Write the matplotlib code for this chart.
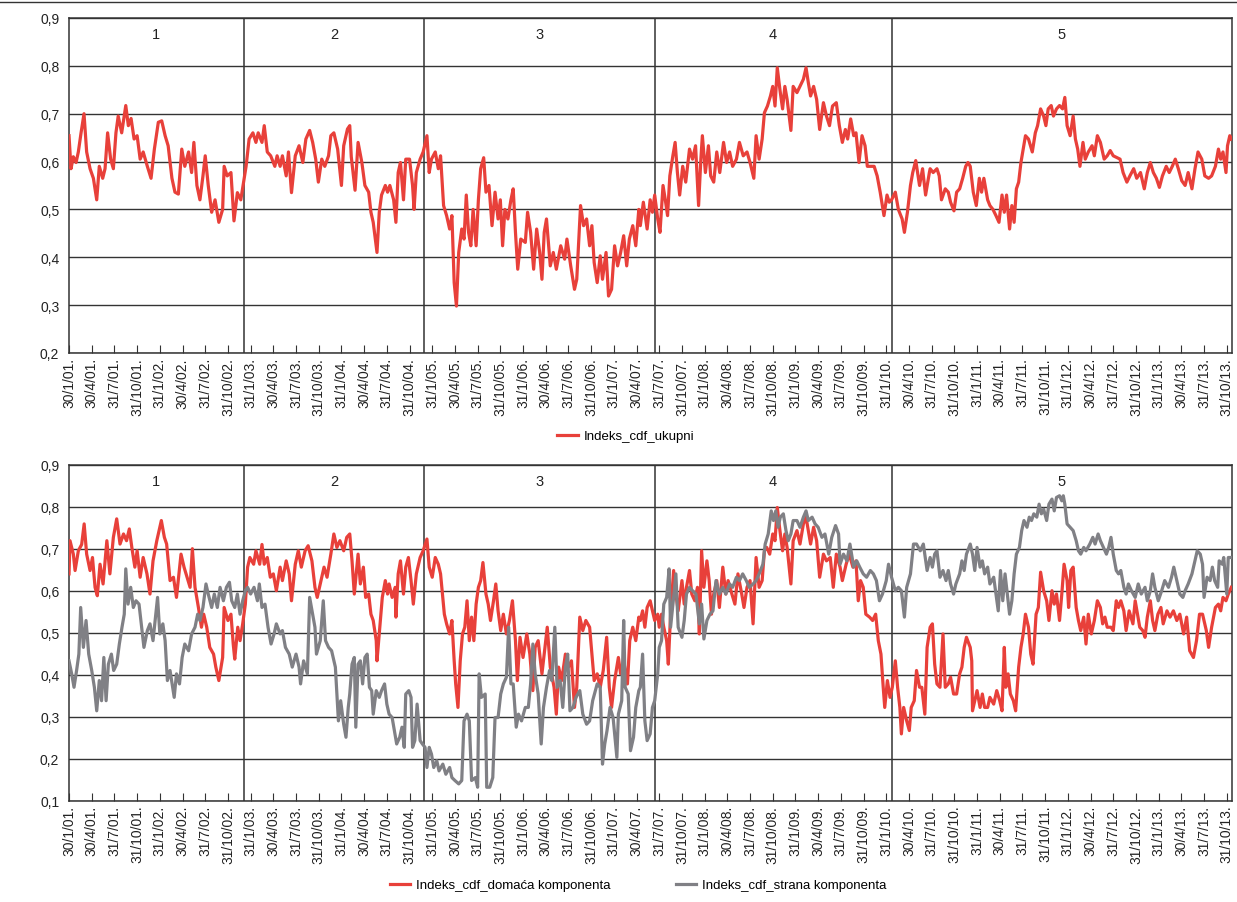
import numpy as np
import matplotlib
matplotlib.use("Agg")
import matplotlib.pyplot as plt
from matplotlib.lines import Line2D
from matplotlib.ticker import FuncFormatter
import matplotlib.transforms as mtransforms

plt.rcParams['font.family'] = ['Liberation Sans', 'DejaVu Sans']

# x = months since 30/1/01
top_m = [0, 0.26, 0.57, 0.93, 1.23, 1.59, 1.98, 2.33, 2.78, 3.22, 3.66, 4.0, 4.45, 4.76, 5.1, 5.5, 5.86, 6.2, 6.5, 6.96,
         7.5, 7.84, 8.2, 8.6, 9.0, 9.4, 9.8, 10.35, 10.84, 11.28, 11.8, 12.25, 12.7, 13.1, 13.6, 14.0, 14.45, 14.9, 15.3, 15.8,
         16.2, 16.5, 16.9, 17.3, 17.7, 18.0, 18.4, 18.85, 19.3, 19.8, 20.3, 20.5, 20.9, 21.4, 21.8, 22.25, 22.7, 23.0, 23.4, 23.8,
         24.3, 24.7, 25.0, 25.5, 25.8, 26.2, 26.65, 27.2, 27.5, 27.9, 28.2, 28.7, 29.0, 29.4, 29.9, 30.4, 30.9, 31.3, 31.8, 32.2,
         32.6, 32.95, 33.4, 33.8, 34.3, 34.6, 35.0, 35.5, 36.0, 36.3, 36.8,
         37.1, 37.3, 37.8, 38.2, 38.7, 39.1, 39.6, 39.9, 40.2, 40.7, 41.0, 41.3, 41.8, 42.1, 42.4, 42.9, 43.2, 43.5, 43.8, 44.2,
         44.5, 45.0, 45.4, 45.6, 45.9, 46.4, 46.8, 47.3, 47.6, 47.9, 48.4, 48.8, 49.1, 49.5, 49.9, 50.3, 50.6, 50.9, 51.2, 51.5,
         51.9, 52.2, 52.5, 52.8, 53.1, 53.4, 53.8, 54.1, 54.4, 54.8, 55.1, 55.5, 55.9, 56.3, 56.7, 57.0, 57.3, 57.6, 58.0, 58.4,
         58.7, 59.0, 59.3, 59.7, 60.3, 60.6, 61.0, 61.4, 61.8, 62.2, 62.5, 62.8, 63.1, 63.6, 64.0, 64.4, 64.98, 65.5, 65.8, 66.3,
         66.8, 67.1, 67.6, 68.0, 68.4, 68.8, 69.1, 69.4, 69.8, 70.2, 70.5, 70.97, 71.3, 71.7, 72.1, 72.5, 72.9, 73.3, 73.7, 74.05,
         74.5, 74.9, 75.3,
         75.5, 75.9, 76.4, 76.8, 77.1, 77.4, 77.8, 78.1, 78.5, 78.8, 79.1, 79.4, 79.8, 80.1, 80.4, 80.7, 81.1, 81.5, 82.0, 82.4,
         82.8, 83.2, 83.5, 83.7, 84.1, 84.5, 84.8, 85.2, 85.6, 86.0, 86.5, 86.9, 87.3, 87.7, 88.2, 88.6, 89.1, 89.6, 90.0, 90.5,
         90.8, 91.2, 91.6, 91.9, 92.3, 92.7, 93.0, 93.3, 93.6, 93.95, 94.3, 94.6, 94.9, 95.4, 95.7, 96.2, 96.6, 97.05, 97.4, 97.7,
         98.0, 98.4, 98.8, 99.2, 99.7, 100.1, 100.5, 100.9, 101.4, 101.8, 102.2, 102.6, 102.9, 103.3, 103.7, 104.0, 104.4, 104.8,
         105.2, 105.5, 106.0, 106.4, 106.8, 107.2, 107.7, 108.1, 108.4, 108.7, 109.2, 109.6, 110.1, 110.4, 110.8, 111.2, 111.5,
         111.9, 112.4, 112.8, 113.2, 113.7,
         113.8, 114.2, 114.7, 115.0, 115.3, 115.8, 116.2, 116.5, 116.95, 117.3, 117.7, 118.1, 118.5, 118.8, 119.1, 119.5, 119.9,
         120.3, 120.6, 120.9, 121.4, 121.7, 122.1, 122.5, 122.9, 123.3, 123.6, 123.9, 124.3, 124.6, 124.9, 125.2, 125.5, 125.8,
         126.1, 126.4, 126.8, 127.3, 127.7, 128.0, 128.4, 128.8, 129.1, 129.4, 129.8, 130.1, 130.5, 130.9, 131.3, 131.6, 131.9,
         132.3, 132.7, 133.0, 133.3, 133.6, 134.0, 134.3, 134.7, 135.2, 135.5, 135.9, 136.3, 136.8, 137.2, 137.6, 138.0, 138.5,
         138.9, 139.3, 139.8, 140.2, 140.7, 141.1, 141.6, 142.1, 142.5, 142.9, 143.3, 143.7, 144.1, 144.5, 145.0, 145.4, 145.8,
         146.2, 146.6, 147.05, 147.5, 147.9, 148.4, 148.8, 149.2, 149.7, 150.1, 150.6, 151.0, 151.5, 151.9, 152.2, 152.5, 152.9,
         153.1, 153.4, 153.6]
top_v = [.654, .585, .61, .598, .62, .66, .70, .62, .585, .565, .52, .59, .565, .585, .66, .605, .585, .66, .695, .66,
         .717, .675, .69, .647, .654, .605, .62, .59, .565, .626, .682, .685, .654, .633, .565, .536, .532, .626, .59, .62,
         .577, .64, .55, .52, .57, .612, .55, .494, .52, .473, .5, .59, .57, .577, .476, .535, .52, .55, .59, .647,
         .66, .64, .66, .64, .675, .62, .612, .59, .612, .59, .612, .57, .62, .535, .612, .633, .598, .647, .665, .64,
         .605, .557, .605, .59, .612, .654, .66, .626, .55, .633, .668,
         .675, .61, .54, .64, .598, .55, .536, .494, .473, .41, .494, .53, .55, .536, .55, .52, .473, .577, .598, .52,
         .605, .605, .55, .5, .577, .605, .62, .654, .577, .605, .62, .585, .612, .508, .487, .459, .487, .347, .298, .41,
         .459, .438, .53, .452, .424, .5, .424, .52, .585, .608, .536, .55, .466, .536, .48, .52, .424, .5, .48, .52,
         .543, .452, .375, .438, .431, .494, .452, .375, .459, .41, .354, .452, .48, .382, .41, .375, .424, .396, .438, .382,
         .333, .354, .508, .466, .48, .424, .466, .389, .347, .403, .354, .41, .319, .333, .424, .382, .41, .445, .382, .438,
         .466, .424, .5,
         .466, .515, .459, .52, .494, .53, .48, .452, .55, .52, .487, .57, .612, .64, .577, .53, .59, .557, .626, .605,
         .633, .508, .605, .654, .577, .633, .57, .557, .62, .577, .64, .598, .62, .59, .605, .64, .612, .62, .598, .565,
         .654, .605, .647, .702, .716, .737, .757, .716, .796, .75, .71, .757, .73, .665, .757, .744, .757, .772, .796, .765,
         .737, .757, .73, .667, .723, .695, .675, .716, .723, .675, .64, .667, .647, .689, .654, .66, .598, .654,
         .633, .59, .59, .59, .57, .536, .487, .53, .515, .52, .536, .5, .48, .452, .494, .55, .577,
         .602, .55, .585, .53, .577,
         .585, .577, .585, .57, .52, .543, .536, .515, .497, .536, .543, .565, .59, .598, .59, .536, .508,
         .565, .536, .565, .52, .508, .5, .487, .473, .53, .494, .53, .459, .508, .473, .543, .557, .598,
         .626, .654, .647, .62, .66, .675, .71, .695, .675, .71, .717, .695, .71, .717, .71, .734, .675,
         .654, .695, .647, .626, .59, .64, .605, .62, .633, .612, .654, .64, .605, .612, .623, .612, .608,
         .605, .577, .557, .57, .585, .565, .577, .543, .577, .598, .577, .565, .546, .57, .59, .577, .59,
         .605, .585, .56, .55, .577, .543, .585, .62, .605, .57, .565, .57, .59, .626, .605, .62, .577,
         .633, .654, .647]

dom_m = [0, 0.13, 0.57, 0.8, 1.23, 1.67, 2.0, 2.33, 2.78, 3.1, 3.44, 3.74, 4.1, 4.5, 5.0, 5.4, 5.86, 6.3, 6.74, 7.2,
         7.6, 7.97, 8.3, 8.7, 9.0, 9.4, 9.8, 10.3, 10.7, 11.1, 11.6, 12.2, 12.6, 12.9, 13.35, 13.8, 14.2, 14.8, 15.2, 15.6,
         16.0, 16.3, 16.65, 17.1, 17.5, 17.8, 18.2, 18.6, 19.1, 19.4, 19.8, 20.3, 20.5, 21.0, 21.4, 21.7, 21.9, 22.3, 22.6, 22.95,
         23.3, 23.6, 23.9, 24.4, 24.7, 25.2, 25.5, 25.8, 26.2, 26.6, 27.0, 27.4, 27.9, 28.2, 28.7, 29.1, 29.4, 29.9, 30.3, 30.7,
         31.2, 31.6, 32.1, 32.5, 32.8, 33.3, 33.7, 34.1, 34.6, 35.0, 35.4, 35.8, 36.3, 36.7,
         37.1, 37.4, 37.7, 38.0, 38.2, 38.5, 38.9, 39.2, 39.6, 39.9, 40.2, 40.6, 40.7, 41.1, 41.4, 41.8, 42.1, 42.3, 42.7, 43.1,
         43.2, 43.5, 43.8, 44.2, 44.5, 44.85, 45.2, 45.5, 45.9, 46.4, 46.8, 47.3, 47.6, 48.0, 48.4, 48.8, 49.1, 49.6, 49.9, 50.3,
         50.6, 50.9, 51.1, 51.4, 51.7, 52.0, 52.3, 52.6, 52.9, 53.2, 53.5, 53.8, 54.1, 54.4, 54.7, 55.1, 55.4, 55.7, 56.1, 56.4,
         56.7, 57.05, 57.4, 57.8, 58.2, 58.6, 59.0, 59.25, 59.6, 60.0, 60.5, 60.9, 61.3, 61.6, 62.0, 62.5, 62.8, 63.2, 63.6, 64.1,
         64.4, 64.7, 65.1, 65.6, 66.0, 66.4, 66.8, 67.1, 67.5, 67.9, 68.3, 68.8, 69.1, 69.4, 69.8, 70.2, 70.6, 71.05, 71.4, 71.7,
         72.1, 72.6, 72.9, 73.3, 73.8, 74.1, 74.5, 74.9, 75.3,
         75.5, 75.8, 76.1, 76.4, 76.8, 77.1, 77.4, 77.8, 78.0, 78.3, 78.6, 78.98, 79.2, 79.5, 79.9, 80.2, 80.5, 81.0, 81.3, 81.6,
         82.0, 82.3, 82.7, 83.05, 83.3, 83.6, 83.9, 84.3, 84.6, 84.9, 85.2, 85.6, 85.95, 86.4, 86.8, 87.1, 87.6, 88.0, 88.4, 88.9,
         89.2, 89.6, 90.0, 90.4, 90.8, 91.2, 91.6, 91.9, 92.2, 92.6, 93.0, 93.3, 93.6, 93.95, 94.3, 94.6, 94.9, 95.4, 95.7, 96.2,
         96.6, 97.05, 97.4, 97.7, 98.0, 98.4, 98.8, 99.2, 99.7, 100.1, 100.6, 101.0, 101.4, 101.9, 102.2, 102.7, 103.1, 103.6,
         104.0, 104.3, 104.6, 104.96, 105.3, 105.8, 106.2, 106.6, 106.95, 107.3, 107.6, 107.8, 108.15, 108.5, 108.8, 109.2,
         109.5, 109.8, 110.0, 110.3, 110.7, 111.05, 111.3, 111.7, 112.0, 112.4, 112.7, 113.1, 113.4,
         113.8, 114.1, 114.4, 114.7, 115.1, 115.5, 115.8, 116.2, 116.5, 116.9, 117.3, 117.7, 118.0, 118.3, 118.6, 119.1, 119.3,
         119.4, 119.7, 120.0, 120.4, 120.7, 121.0, 121.4, 121.7, 122.2, 122.6, 123.0, 123.3, 123.6, 123.8, 124.1, 124.4, 124.8,
         125.1, 125.5, 125.8, 126.1, 126.4, 126.8, 127.1, 127.4, 127.8, 128.1, 128.4, 128.8, 129.2, 129.5, 129.9, 130.2, 130.5,
         130.9, 131.2, 131.5, 131.9, 132.1, 132.4, 132.7, 133.1, 133.4, 133.7, 134.1, 134.4, 134.7, 135.1, 135.5, 135.9, 136.3,
         136.6, 136.9, 137.2, 137.7, 138.0, 138.4, 138.7, 139.0, 139.4, 139.7, 140.1, 140.6, 140.9, 141.2, 141.5, 141.9, 142.2,
         142.5, 142.9, 143.2, 143.5, 143.9, 144.3, 144.6, 145.1, 145.5, 145.95, 146.4, 146.8, 147.3, 147.7, 148.1, 148.6, 149.0,
         149.4, 149.8, 150.3, 150.6, 151.0, 151.5, 151.9, 152.2, 152.5, 152.9, 153.2, 153.6]
dom_v = [.64, .719, .687, .648, .695, .71, .759, .687, .648, .679, .608, .588, .663, .616, .719, .64, .727, .771, .711, .735,
         .719, .747, .703, .656, .695, .632, .679, .64, .592, .671, .719, .767, .727, .711, .624, .632, .584, .687, .656, .632,
         .608, .7, .608, .56, .513, .544, .513, .465, .449, .418, .386, .441, .56, .529, .544, .473, .437, .513, .481, .521,
         .568, .656, .679, .663, .695, .663, .71, .663, .679, .632, .64, .6, .656, .624, .671, .64, .576, .663, .695, .656,
         .695, .707, .671, .608, .584, .624, .656, .632, .687, .735, .703, .719, .695, .727,
         .735, .671, .592, .648, .687, .616, .656, .584, .592, .544, .529, .481, .433, .521, .584, .624, .592, .616, .584, .608,
         .537, .64, .671, .592, .656, .679, .624, .568, .64, .679, .695, .723, .656, .632, .679, .663, .64, .544, .521, .497,
         .529, .433, .378, .322, .433, .497, .513, .576, .481, .537, .481, .568, .608, .624, .667, .592, .568, .529, .576, .616,
         .552, .505, .544, .497, .529, .576, .481, .386, .489, .441, .497, .449, .362, .465, .481, .402, .449, .513, .418, .37,
         .306, .418, .386, .449, .418, .433, .322, .37, .537, .505, .529, .513, .449, .386, .402, .37, .41, .489, .37, .322,
         .386, .441, .402, .433, .378, .481, .513, .481, .537,
         .529, .552, .513, .56, .576, .552, .529, .544, .513, .544, .513, .481, .425, .544, .648, .592, .552, .624, .568, .608,
         .648, .592, .576, .608, .497, .695, .608, .671, .624, .544, .592, .624, .56, .656, .592, .624, .592, .568, .64, .592,
         .56, .608, .624, .521, .679, .608, .624, .695, .703, .687, .735, .719, .798, .743, .695, .735, .703, .616, .719, .743,
         .711, .759, .775, .743, .711, .751, .719, .632, .687, .671, .679, .608, .687, .656, .624, .663, .687, .656,
         .671, .576, .624, .608, .544, .537, .529, .544, .481, .449, .37, .322, .386, .346, .37, .433,
         .37, .322, .259, .322, .29, .267, .322, .338, .41, .37, .37, .306, .465,
         .513, .521, .425, .378, .37, .497, .37, .378, .394, .354, .354, .402, .418, .465, .489, .465, .433,
         .314, .338, .362, .322, .354, .322, .322, .346, .33, .362, .338, .314, .465, .37, .402, .354, .338,
         .314, .418, .465, .497, .544, .513, .449, .425, .544, .56, .644, .6, .576, .529, .6, .568, .592,
         .529, .592, .663, .624, .56, .648, .656, .56, .529, .505, .537, .473, .544, .497, .529, .576, .56,
         .521, .537, .513, .513, .505, .576, .56, .576, .552, .505, .552, .521, .576, .544, .513, .505, .489,
         .537, .576, .529, .505, .544, .56, .521, .552, .537, .552, .529, .544, .497, .537, .457, .441, .481,
         .544, .544, .505, .465, .513, .56, .568, .552, .584, .576, .592, .608]

str_m = [0, 0.35, 0.66, 1.0, 1.3, 1.54, 1.9, 2.25, 2.6, 3.0, 3.35, 3.66, 4.0, 4.3, 4.6, 4.9, 5.2, 5.6, 5.9, 6.3,
         6.65, 7.0, 7.3, 7.5, 7.8, 8.15, 8.5, 8.85, 9.25, 9.6, 9.9, 10.35, 10.7, 11.1, 11.7, 12.0, 12.4, 12.7, 13.0, 13.35,
         13.9, 14.2, 14.6, 14.95, 15.3, 15.8, 16.2, 16.65, 17.0, 17.3, 17.7, 18.1, 18.4, 18.85, 19.2, 19.6, 19.96, 20.4, 20.8, 21.2,
         21.5, 21.9, 22.25, 22.6, 22.95, 23.3, 23.6, 24.0, 24.45, 24.9, 25.15, 25.5, 25.9, 26.3, 26.7, 27.1, 27.4, 27.9, 28.2, 28.6,
         29.1, 29.5, 30.0, 30.4, 30.6, 31.0, 31.5, 31.8, 32.2, 32.5, 32.7, 33.2, 33.6, 33.9, 34.3, 34.7, 35.2, 35.6, 35.9, 36.3,
         36.6, 36.9,
         37.1, 37.4, 37.7, 37.9, 38.2, 38.5, 38.8, 39.1, 39.4, 39.7, 40.0, 40.2, 40.6, 41.0, 41.3, 41.7, 42.0, 42.3, 42.7, 43.0,
         43.3, 43.7, 44.0, 44.3, 44.5, 44.9, 45.2, 45.4, 45.7, 46.0, 46.4, 46.7, 47.05, 47.3, 47.6, 47.9, 48.2, 48.6, 48.9, 49.4,
         49.8, 50.3, 50.6, 51.0, 51.5, 51.9, 52.2, 52.6, 52.9, 53.2, 53.7, 54.0, 54.2, 54.5, 55.0, 55.2, 55.6, 56.0, 56.3, 56.7,
         57.05, 57.4, 57.8, 58.1, 58.4, 58.7, 59.1, 59.4, 59.8, 60.3, 60.7, 61.0, 61.3, 61.6, 62.0, 62.4, 62.7, 63.1, 63.5, 63.8,
         64.2, 64.5, 64.9, 65.25, 65.6, 65.9, 66.2, 66.6, 67.0, 67.5, 67.9, 68.4, 68.8, 69.2, 69.8, 70.2, 70.5, 70.8, 71.1, 71.5,
         71.9, 72.4, 72.6, 73.04, 73.3, 73.5, 73.9, 74.2, 74.6, 74.9, 75.3,
         75.5, 75.8, 76.1, 76.4, 76.8, 77.1, 77.4, 77.8, 78.0, 78.3, 78.6, 78.98, 79.3, 79.5, 79.9, 80.2, 80.5, 81.0, 81.3, 81.6,
         82.0, 82.4, 82.85, 83.3, 83.6, 83.9, 84.3, 84.7, 85.1, 85.5, 85.95, 86.4, 86.8, 87.3, 87.7, 88.2, 88.6, 89.03, 89.5, 89.9,
         90.4, 90.8, 91.2, 91.7, 92.0, 92.4, 92.8, 93.1, 93.4, 93.7, 94.0, 94.4, 94.75, 95.05, 95.4, 95.7, 96.2, 96.6, 97.05, 97.4,
         97.7, 98.2, 98.6, 99.0, 99.5, 99.9, 100.4, 100.8, 101.3, 101.7, 101.9, 102.35, 102.8, 103.2, 103.7, 104.1, 104.5, 104.96,
         105.4, 105.9, 106.3, 106.7, 107.1, 107.5, 108.0, 108.3, 108.7, 109.2, 109.6, 110.0, 110.4, 110.7, 111.2, 111.6, 112.0,
         112.5, 112.9, 113.4,
         113.8, 114.1, 114.4, 114.7, 115.1, 115.5, 115.9, 116.2, 116.5, 116.9, 117.2, 117.7, 118.0, 118.3, 118.6, 119.1, 119.4,
         119.7, 120.0, 120.4, 120.7, 121.0, 121.4, 121.7, 122.2, 122.5, 122.8, 123.1, 123.4, 123.7, 124.0, 124.3, 124.6, 124.9,
         125.2, 125.6, 125.9, 126.2, 126.6, 126.9, 127.2, 127.5, 127.9, 128.2, 128.5, 128.8, 129.2, 129.5, 129.9, 130.2, 130.5,
         130.9, 131.2, 131.4, 131.6, 131.9, 132.3, 132.7, 133.1, 133.4, 133.7, 134.1, 134.4, 134.9, 135.3, 135.6, 136.0, 136.3,
         136.7, 137.1, 137.4, 137.7, 138.0, 138.4, 138.7, 139.0, 139.4, 139.7, 140.0, 140.4, 140.9, 141.3, 141.7, 142.2, 142.5,
         142.9, 143.2, 143.5, 143.95, 144.4, 144.8, 145.3, 145.7, 146.0, 146.4, 146.8, 147.2, 147.5, 147.9, 148.4, 148.8, 149.1,
         149.5, 149.8, 150.0, 150.4, 150.8, 151.1, 151.4, 151.8, 152.0, 152.4, 152.6, 153.0, 153.2, 153.6]
str_v = [.433, .402, .37, .41, .449, .56, .465, .529, .449, .41, .37, .314, .386, .338, .441, .338, .425, .449, .41, .425,
         .473, .513, .544, .652, .568, .608, .56, .576, .568, .513, .465, .505, .521, .481, .584, .497, .521, .481, .386, .41,
         .346, .402, .378, .441, .473, .457, .497, .513, .544, .529, .56, .616, .592, .56, .592, .56, .608, .576, .608, .62,
         .576, .56, .592, .544, .576, .6, .608, .592, .608, .576, .616, .56, .568, .513, .473, .497, .521, .497, .505, .465,
         .449, .418, .449, .418, .378, .433, .402, .584, .544, .513, .449, .481, .576, .481, .465, .457, .418, .29, .338, .282,
         .251, .322,
         .354, .425, .441, .275, .425, .433, .378, .441, .449, .37, .362, .306, .362, .346, .362, .378, .33, .306, .298, .267,
         .235, .251, .275, .227, .354, .362, .346, .227, .243, .33, .243, .235, .227, .179, .227, .211, .179, .195, .171, .187,
         .163, .179, .155, .148, .14, .148, .29, .306, .29, .148, .155, .132, .402, .346, .354, .132, .132, .155, .298, .298,
         .354, .378, .394, .513, .378, .378, .275, .306, .29, .322, .322, .378, .473, .402, .354, .235, .322, .37, .41, .386,
         .513, .37, .386, .322, .418, .449, .314, .322, .346, .362, .306, .282, .29, .338, .378, .37, .187, .235, .267, .322,
         .298, .203, .306, .338, .529, .37, .354, .219, .251, .322, .362,
         .37, .449, .29, .243, .259, .322, .338, .402, .465, .481, .568, .584, .652, .513, .584, .64, .513, .489, .529, .592,
         .608, .6, .592, .521, .568, .485, .529, .544, .552, .624, .592, .608, .592, .616, .608, .632, .624, .64, .624, .608,
         .616, .624, .64, .663, .711, .735, .79, .767, .79, .751, .775, .783, .743, .719, .735, .767, .767, .751, .775, .79,
         .767, .775, .759, .751, .727, .735, .687, .727, .755, .735, .663, .687, .671, .711, .656, .671, .656, .64,
         .632, .648, .64, .624, .576, .592, .624, .663, .632, .6, .608, .6, .537, .608, .64, .711, .711,
         .695, .711, .648,
         .679, .656, .687, .695, .632, .648, .624, .648, .616, .592, .616, .64, .671, .648, .687, .711, .687,
         .648, .703, .656, .671, .64, .656, .616, .632, .592, .552, .648, .576, .64, .592, .544, .576, .64,
         .687, .703, .743, .767, .751, .775, .767, .783, .775, .806, .783, .794, .767, .806, .818, .79, .822,
         .826, .814, .826, .806, .759, .751, .743, .719, .695, .687, .703, .695, .711, .727, .711, .735, .719,
         .703, .687, .703, .727, .687, .648, .64, .648, .608, .592, .616, .6, .584, .616, .592, .608, .576,
         .6, .64, .608, .576, .6, .624, .608, .632, .656, .624, .592, .584, .6, .616, .64, .671, .695,
         .687, .663, .584, .632, .624, .656, .624, .608, .671, .663, .679, .592, .679, .679]

period_breaks = [23.1, 46.9, 77.4, 108.7]
period_names = ['1', '2', '3', '4', '5']
x_end = 153.7

tick_labels = []
for yy in range(1, 14):
    for mm, dd in ((1, 31), (4, 30), (7, 31), (10, 31)):
        tick_labels.append(f"{dd}/{mm}/{yy:02d}.")
tick_labels[0] = "30/1/01."
tick_pos = np.arange(len(tick_labels)) * 3

RED = '#e8403a'
GRAY = '#808085'
DARK = '#333333'

fig = plt.figure(figsize=(12.37, 9.03), dpi=100)
ax1 = fig.add_axes([0.0558, 0.608, 0.9402, 0.371])
ax2 = fig.add_axes([0.0558, 0.1122, 0.9402, 0.3721])

fig.add_artist(Line2D([0, 1], [0.9965, 0.9965], color=DARK, lw=1.0))


def style(ax, ylo):
    ax.set_xlim(0, x_end)
    ax.set_ylim(ylo, 0.9)
    ax.set_yticks(np.arange(ylo, 0.91, 0.1))
    ax.yaxis.set_major_formatter(FuncFormatter(lambda v, p: f"{v:.1f}".replace('.', ',')))
    ax.set_xticks(tick_pos)
    ax.set_xticklabels(tick_labels, rotation=90, fontsize=10, color='#222222')
    ax.tick_params(axis='x', direction='in', length=6, width=0.8, color=DARK, pad=3)
    ax.tick_params(axis='y', length=0, pad=7, labelsize=10, labelcolor='#222222')
    ax.yaxis.grid(True, color=DARK, lw=1.0)
    ax.set_axisbelow(True)
    for s in ax.spines.values():
        s.set_color(DARK)
        s.set_linewidth(1.1)
    for b in period_breaks:
        ax.axvline(b, color=DARK, lw=1.1, zorder=1)
    edges = [0] + period_breaks + [x_end]
    trans = mtransforms.blended_transform_factory(ax.transData, ax.transAxes)
    for i, name in enumerate(period_names):
        ax.text((edges[i] + edges[i + 1]) / 2, 0.952, name, transform=trans,
                ha='center', va='center', fontsize=10.5, color='#222222')


style(ax1, 0.2)
style(ax2, 0.1)

ax1.plot(top_m, top_v, color=RED, lw=2.3, label='Indeks_cdf_ukupni', zorder=3)
ax2.plot(dom_m, dom_v, color=RED, lw=2.3, label='Indeks_cdf_domaća komponenta', zorder=3)
ax2.plot(str_m, str_v, color=GRAY, lw=2.3, label='Indeks_cdf_strana komponenta', zorder=3)

fig.legend(handles=ax1.get_lines()[-1:], loc='center', bbox_to_anchor=(0.506, 0.516),
           frameon=False, fontsize=9.5, handlelength=1.6, handletextpad=0.45)
fig.legend(handles=ax2.get_lines()[-2:], loc='center', bbox_to_anchor=(0.516, 0.0188), ncol=2,
           frameon=False, fontsize=9.5, handlelength=1.5, handletextpad=0.45, columnspacing=5.0)

fig.savefig('out.png', dpi=100)
